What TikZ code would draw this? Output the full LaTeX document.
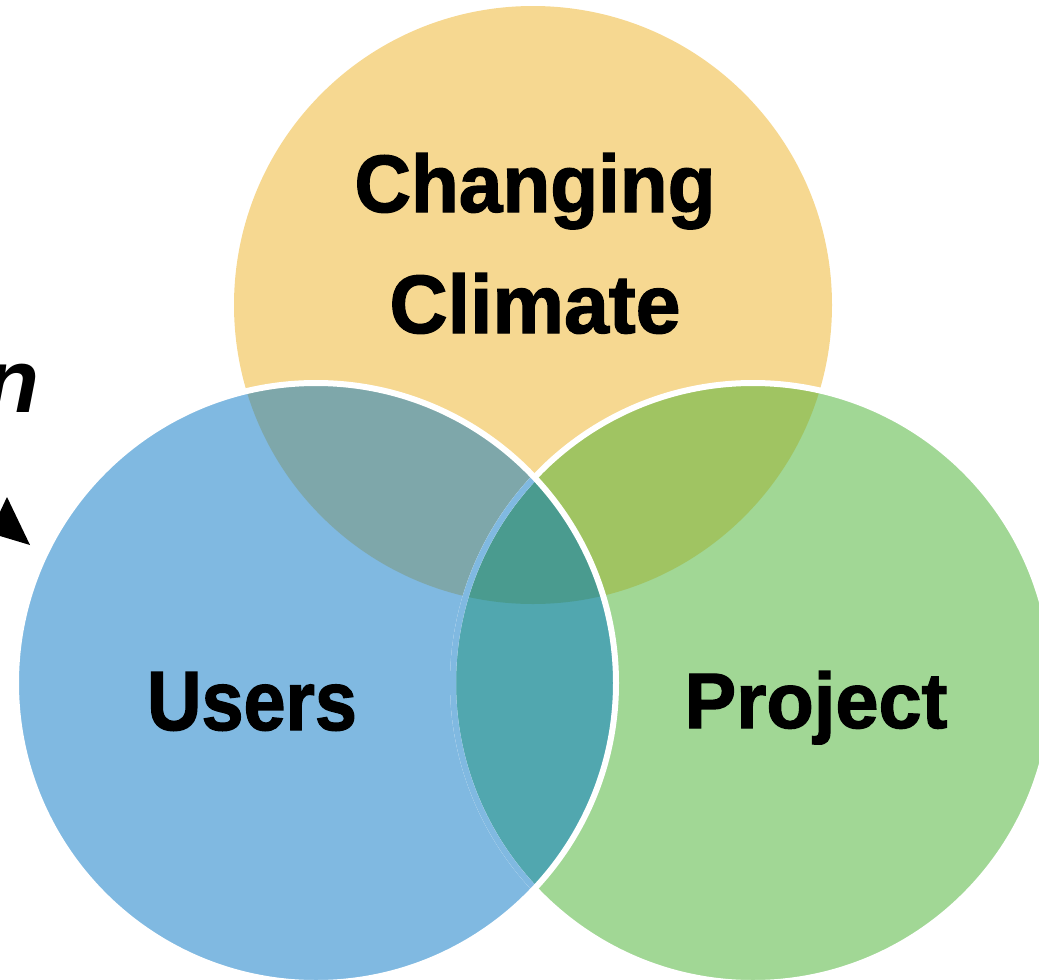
\documentclass[tikz,border=0pt]{standalone}
\usepackage{fontspec}
\setmainfont{Liberation Sans}
\newfontfamily\labelfont{Liberation Sans Bold}[FakeBold=1.6]
\usepackage{graphicx}
\definecolor{ycol}{HTML}{F6D891}
\definecolor{bcol}{HTML}{80B9E1}
\definecolor{gcol}{HTML}{A1D795}
\definecolor{ybcol}{HTML}{7EA7AA}
\definecolor{ygcol}{HTML}{A0C462}
\definecolor{bgcol}{HTML}{51A7AF}
\definecolor{ybgcol}{HTML}{4A9B8F}
\tikzset{
  label text/.style={font=\labelfont\fontsize{80}{90}\selectfont, inner sep=0pt, anchor=base, text=black},
  rim/.style={line width=6pt},
}
\begin{document}
\begin{tikzpicture}[x=1pt,y=-1pt]
\useasboundingbox (0,0) rectangle (1039,980);
\clip (0,0) rectangle (1039,980);
\coordinate (Y) at (533,305);
\coordinate (B) at (316,683);
\coordinate (G) at (753,683);
\def\ry{299}
\def\rr{300}
% base discs
\fill[ycol] (Y) circle (\ry);
\fill[gcol] (G) circle (\rr);
\fill[bcol] (B) circle (\rr);
% pairwise overlaps with the climate disc
\begin{scope}
  \clip (Y) circle (\ry);
  \fill[ygcol] (G) circle (\rr);
  \fill[ybcol] (B) circle (\rr);
\end{scope}
% users/project overlap and the common centre
\begin{scope}
  \clip (B) circle (\rr);
  \fill[bgcol] (G) circle (\rr);
  \clip (Y) circle (\ry);
  \fill[ybgcol] (G) circle (\rr);
\end{scope}
% rims
\draw[white, rim] (G) circle (\rr);
\begin{scope}
  \clip (B) circle (\rr);
  \draw[bcol, rim] (G) circle (\rr);
\end{scope}
\draw[white, rim] (B) circle (\rr);
% labels
\node[label text] (changing) at (535,212) {\resizebox{361pt}{59pt}{Changing}};
\node[label text] (climate) at (535,333) {\resizebox{291pt}{60pt}{Climate}};
\node[label text] (users) at (252,730) {\resizebox{210pt}{58pt}{Users}};
\node[label text] (project) at (816,728) {\resizebox{263pt}{57pt}{Project}};
% cut-off side caption and arrow tip
\node[font=\bfseries\itshape\fontsize{90}{96}\selectfont, inner sep=0pt, anchor=base east] (side) at (40,412) {n};
\fill[black] (7,497) -- (30,545) -- (-10,533) -- cycle;
\end{tikzpicture}
\end{document}
